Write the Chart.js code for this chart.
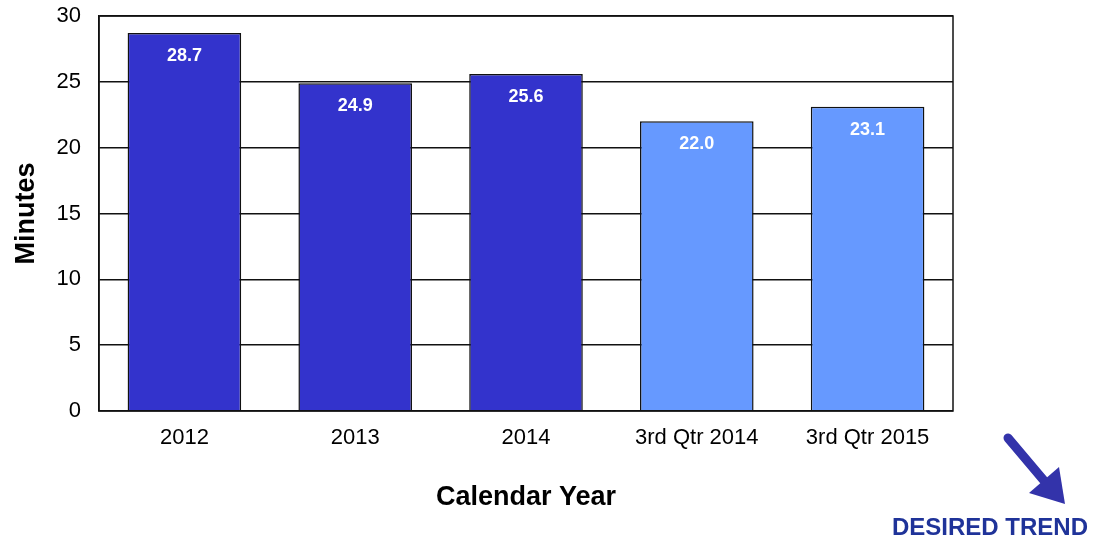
<!DOCTYPE html>
<html>
<head>
<meta charset="utf-8">
<script src="https://cdn.jsdelivr.net/npm/chart.js@4"></script>
<style>
  html, body { margin: 0; padding: 0; background: #fff; }
  #wrap { width: 1095px; height: 540px; position: relative; }
</style>
</head>
<body>
<div id="wrap"><canvas id="myChart"></canvas></div>
<script>
Chart.defaults.color = "black";
Chart.defaults.font.family = 'Liberation Sans, Arial, sans-serif';


// DATA
// ================================================================
var categories = ['2012', '2013', '2014', '3rd Qtr 2014', '3rd Qtr 2015'];
var minutes = [28.7, 24.9, 25.6, 22.0, 23.1];
var barColors = ['#3333CC', '#3333CC', '#3333CC', '#6699FF', '#6699FF'];
var yTicks = [0, 5, 10, 15, 20, 25, 30];


// Plugins
// ================================================================
// value labels inside the top of each bar
var valueLabels = {
	id: 'valueLabels',
	afterDatasetsDraw(chart) {
		var ctx = chart.ctx;
		var meta = chart.getDatasetMeta(0);
		ctx.save();
		ctx.fillStyle = 'white';
		ctx.font = 'bold 18px Liberation Sans, Arial, sans-serif';
		ctx.textAlign = 'center';
		ctx.textBaseline = 'middle';
		meta.data.forEach(function (bar, i) {
			ctx.fillText(minutes[i].toFixed(1), bar.x, bar.y + 23);
		});
		ctx.restore();
	}
};

// box round the plot + trend arrow
var frame = {
	id: 'frame',
	afterDraw(chart) {
		var ctx = chart.ctx;
		var a = chart.chartArea;
		ctx.save();
		ctx.strokeStyle = '#111';
		ctx.lineWidth = 1.5;
		ctx.strokeRect(a.left, a.top, a.right - a.left, a.bottom - a.top);

		// arrow
		var x0 = a.right + 55, y0 = a.bottom + 27;
		ctx.fillStyle = '#3333AA';
		ctx.strokeStyle = '#3333AA';
		ctx.lineWidth = 9;
		ctx.lineCap = 'round';
		ctx.beginPath();
		ctx.moveTo(x0, y0);
		ctx.lineTo(x0 + 38, y0 + 45);
		ctx.stroke();
		ctx.beginPath();
		ctx.moveTo(x0 + 51, y0 + 29);
		ctx.lineTo(x0 + 57, y0 + 66);
		ctx.lineTo(x0 + 21, y0 + 55);
		ctx.closePath();
		ctx.fill();

		ctx.fillStyle = '#1F3399';
		ctx.font = 'bold 24px Liberation Sans, Arial, sans-serif';
		ctx.textAlign = 'center';
		ctx.textBaseline = 'middle';
		ctx.fillText('DESIRED TREND', a.right + 37, a.bottom + 117);
		ctx.restore();
	}
};


// OPTIONS
// ================================================================
var options = {
	responsive: true,
	maintainAspectRatio: false,
	animation: false,
	layout: {
		padding: { left: 10, right: 142, top: 16, bottom: 0 }
	},
	plugins: {
		legend: { display: false },
		tooltip: { enabled: false }
	},
	scales: {
		x: {
			grid: { display: false, drawTicks: false },
			border: { display: false },
			ticks: {
				padding: 14,
				font: { size: 22 }
			},
			title: {
				display: true,
				text: 'Calendar Year',
				font: { size: 27, weight: 'bold' },
				padding: { top: 4, bottom: 26 }
			},
			afterFit: function (s) {
				s.height = 129;
				s.paddingLeft = 0;
				s.paddingRight = 0;
			}
		},
		y: {
			min: 0,
			max: 30,
			afterBuildTicks: function (s) {
				s.ticks = yTicks.map(function (v) { return { value: v }; });
			},
			grid: {
				color: '#111',
				lineWidth: 1.5,
				drawTicks: false
			},
			border: { display: true, color: '#111', width: 1.5 },
			ticks: {
				padding: 18,
				font: { size: 22 }
			},
			title: {
				display: true,
				text: 'Minutes',
				font: { size: 27, weight: 'bold' },
				padding: { top: 0, bottom: 0 }
			},
			afterFit: function (s) {
				s.width = 89;
				s.paddingTop = 0;
				s.paddingBottom = 0;
			}
		}
	}
};


// Create the chart
var ctx = document.getElementById('myChart').getContext('2d');
var Render = new Chart(ctx, {
	type: 'bar',
	data: {
		labels: categories,
		datasets: [{
			data: minutes,
			backgroundColor: barColors,
			borderColor: '#111',
			borderWidth: 1.5,
			barPercentage: 0.665,
			categoryPercentage: 1
		}]
	},
	options: options,
	plugins: [valueLabels, frame]
});
</script>
</body>
</html>
